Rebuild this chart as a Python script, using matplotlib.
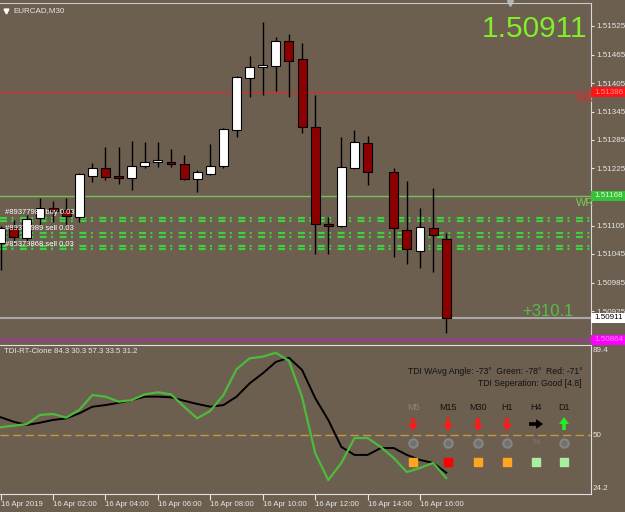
import matplotlib
matplotlib.use('Agg')
import matplotlib.pyplot as plt
import numpy as np
from matplotlib.patches import Rectangle, FancyArrowPatch
from matplotlib import transforms

plt.rcParams['font.family'] = ['Liberation Sans', 'DejaVu Sans']
plt.rcParams['lines.scale_dashes'] = False

nan = np.nan

# EURCAD M30 candles, 16 Apr 2019 00:00 .. 17:00 (bar 29 missing on the chart)
opens = [1.51068, 1.51100, 1.51079, 1.51121, 1.51142, 1.51138, 1.51123, 1.51209, 1.51226, 1.51206,
         1.51205, 1.51230, 1.51239, 1.51239, 1.51234, 1.51203, 1.51213, 1.51230, 1.51306, 1.51416,
         1.51439, 1.51441, 1.51493, 1.51456, 1.51312, 1.51107, 1.51104, 1.51226, 1.51279, nan,
         1.51218, 1.51096, 1.51051, 1.51100, 1.51077]
highs = [1.51104, 1.51117, 1.51127, 1.51163, 1.51157, 1.51163, 1.51216, 1.51237, 1.51270, 1.51270,
         1.51283, 1.51281, 1.51281, 1.51266, 1.51253, 1.51222, 1.51277, 1.51310, 1.51420, 1.51462,
         1.51533, 1.51502, 1.51508, 1.51489, 1.51380, 1.51123, 1.51291, 1.51306, 1.51293, nan,
         1.51226, 1.51199, 1.51142, 1.51184, 1.51089]
lows = [1.51011, 1.51064, 1.51066, 1.51106, 1.51112, 1.51106, 1.51112, 1.51197, 1.51200, 1.51192,
        1.51180, 1.51226, 1.51228, 1.51228, 1.51201, 1.51176, 1.51211, 1.51226, 1.51291, 1.51376,
        1.51380, 1.51388, 1.51376, 1.51300, 1.51045, 1.51045, 1.51102, 1.51224, 1.51190, nan,
        1.51039, 1.51024, 1.51016, 1.51007, 1.50879]
closes = [1.51100, 1.51081, 1.51119, 1.51142, 1.51136, 1.51125, 1.51213, 1.51226, 1.51207, 1.51205,
          1.51230, 1.51239, 1.51243, 1.51234, 1.51203, 1.51218, 1.51230, 1.51308, 1.51418, 1.51439,
          1.51442, 1.51493, 1.51451, 1.51312, 1.51108, 1.51105, 1.51228, 1.51281, 1.51218, nan,
          1.51100, 1.51056, 1.51102, 1.51085, 1.50911]

# TDI lines
tdi_green = [53.4, 54.1, 54.8, 58.8, 59.2, 57.6, 61.0, 67.5, 66.8, 64.6,
             65.3, 67.8, 68.7, 67.8, 62.4, 57.3, 60.6, 67.5, 78.8, 83.6,
             84.3, 86.0, 82.5, 66.6, 42.1, 30.3, 37.8, 48.7, 48.7, 44.8,
             39.9, 33.8, 35.6, 37.8, 31.2]
tdi_black = [57.8, 55.8, 54.4, 55.4, 56.6, 57.3, 59.5, 62.4, 63.1, 64.1,
             65.3, 66.8, 66.8, 66.5, 65.0, 63.6, 62.4, 63.1, 66.8, 72.6,
             77.0, 82.0, 83.8, 78.5, 66.2, 56.6, 44.8, 41.3, 41.3, 44.3,
             44.3, 41.3, 39.1, 37.8, 33.5]

time_labels = ['16 Apr 2019', '16 Apr 02:00', '16 Apr 04:00', '16 Apr 06:00', '16 Apr 08:00',
               '16 Apr 10:00', '16 Apr 12:00', '16 Apr 14:00', '16 Apr 16:00']
price_ticks = [1.51525, 1.51465, 1.51405, 1.51345, 1.51285, 1.51225, 1.51105, 1.51045, 1.50985, 1.50925]

red_level = 1.51386
green_level = 1.51168
bottom_level = 1.50864
grid_levels = [1.51121, 1.51115, 1.51089, 1.51081, 1.51062, 1.51056]
order_texts = ['#89377982 buy 0.03', '#89377989 sell 0.03', '#85379868 sell 0.03']
order_levels = [1.51133, 1.51099, 1.51065]
pnl = 310.1

tdi_title = 'TDI-RT-Clone 84.3 30.3 57.3 33.5 31.2'
tdi_info = ['TDI WAvg Angle: -73\u00b0  Green: -78\u00b0  Red: -71\u00b0', 'TDI Seperation: Good [4.8]']
tf_names = ['M5', 'M15', 'M30', 'H1', 'H4', 'D1']
tf_trend = ['down', 'down', 'down', 'down', 'flat', 'up']
tf_state = ['#FFA51F', '#FF0000', '#FFA51F', '#FFA51F', '#A8F0A0', '#A8F0A0']

BG = '#6d5f50'
LIGHT = '#e6e6e6'

W, H = 625, 512
def rect(x0, y0, x1, y1):
    return [x0 / W, 1 - y1 / H, (x1 - x0) / W, (y1 - y0) / H]

fig = plt.figure(figsize=(6.25, 5.12), dpi=100, facecolor=BG)
ax = fig.add_axes(rect(0, 3, 591, 342), facecolor=BG)
ax2 = fig.add_axes(rect(0, 345, 591, 494), facecolor=BG)

n = len(closes)
x = np.arange(n)
o = np.array(opens); c = np.array(closes); hi = np.array(highs); lo = np.array(lows)
ok = ~np.isnan(c)

# horizontal levels
ax.axhline(red_level, color='#c83232', lw=1, zorder=1)
ax.axhline(green_level, color='#78c05a', lw=1, zorder=1)
ax.axhline(c[ok][-1], color='#a8a8a8', lw=1.5, zorder=1)
ax.axhline(bottom_level, color='#b428b4', lw=1.2, zorder=1)
for lv in grid_levels:
    ax.axhline(lv, color='#3fcf3f', lw=1.6, dashes=(5, 3.2, 1.4, 4.7), zorder=1)

# candles
ax.vlines(x[ok], lo[ok], hi[ok], color='black', lw=1, zorder=3)
body = np.maximum(np.abs(c - o), 0.00004)
cols = np.where(c >= o, 'white', '#8b0000')
ax.bar(x[ok], body[ok], bottom=np.minimum(o, c)[ok], width=0.68, color=cols[ok],
       edgecolor='black', linewidth=0.8, zorder=4)

# order labels
for t, lv in zip(order_texts, order_levels):
    ax.text(0.3, lv, t, color='white', fontsize=5.5, va='center', zorder=5)

ax.set_xlim(-0.05, 45.05)
ax.set_ylim(1.51525 - 316 / 47500, 1.51525 + 23 / 47500)
ax.set_xticks([])
ax.yaxis.tick_right()
ax.set_yticks(price_ticks, ['%.5f' % p for p in price_ticks])
ax.tick_params(axis='y', colors=LIGHT, labelsize=5.8, length=2, pad=2, width=0.8)
for s in ['left', 'bottom']:
    ax.spines[s].set_visible(False)
ax.spines['right'].set_color('#d8d8d8')
ax.spines['top'].set_color('#c8c8c8')

# W labels cut at the right edge
for lv, col in [(red_level, '#d03030'), (green_level, '#7ccc5c')]:
    t = ax.annotate('WR', xy=(1, lv), xycoords=('axes fraction', 'data'), xytext=(-11, -1.5),
                    textcoords='offset points', va='top', color=col, fontsize=8)
    t.set_clip_on(True)

# boxes on the price scale
blend = transforms.blended_transform_factory(ax.transAxes, ax.transData)
box_h = 10 / 47500
for lv, fc, tc in [(red_level, '#ff1414', '#ff8c8c'), (green_level, '#36c236', '#d8ffd8'),
                   (c[ok][-1], 'white', 'black'), (bottom_level, '#ff00ff', '#ff80ff')]:
    ax.add_patch(Rectangle((1.0, lv - box_h / 2), 34 / 591, box_h, transform=blend,
                           facecolor=fc, edgecolor='none', clip_on=False, zorder=6))
    ax.text(1.0 + 3 / 591, lv, '%.5f' % lv, transform=blend, color=tc, fontsize=5.8,
            va='center', ha='left', clip_on=False, zorder=7)

# header texts
ax.plot(6 / 591, 1 - 8 / 339, marker='v', color='white', ms=3.5, transform=ax.transAxes, clip_on=False)
ax.text(13 / 591, 1 - 8 / 339, 'EURCAD,M30', transform=ax.transAxes, color=LIGHT, fontsize=5.8, va='center')
ax.plot(510 / 591, 1.0, marker='v', color='#b4b4b4', ms=4, transform=ax.transAxes, clip_on=False)
fig.text(587 / W, 1 - 29 / H, '%.5f' % c[ok][-1], ha='right', va='center', fontsize=21.5, color='#80f028')
ax.text(548 / 591, 1 - (312 - 3) / 339, '+%.1f' % pnl, transform=ax.transAxes, ha='center',
        va='center', fontsize=12, color='#55be46')

# TDI panel
ax2.axhline(50, color='#c8963c', lw=1, dashes=(6, 3))
ax2.plot(x, tdi_black, color='black', lw=1.4)
ax2.plot(x, tdi_green, color='#4cbb3c', lw=1.6)
ax2.set_xlim(-0.05, 45.05)
ax2.set_ylim(24.2, 89.4)
ax2.set_yticks([])
ax2.set_xticks(np.arange(0, n, 4)[:len(time_labels)], time_labels)
for t in ax2.get_xticklabels():
    t.set_ha('left')
ax2.tick_params(axis='x', colors=LIGHT, labelsize=5.6, length=4, pad=1, width=0.8)
ax2.spines['left'].set_visible(False)
for s in ['top', 'right', 'bottom']:
    ax2.spines[s].set_color('#e0e0e0')
ax2.text(1 + 2 / 591, 1 - 2 / 149, '89.4', transform=ax2.transAxes, color=LIGHT, fontsize=5.8, va='top', clip_on=False)
ax2.text(1 + 2 / 591, 50, '50', transform=transforms.blended_transform_factory(ax2.transAxes, ax2.transData),
         color=LIGHT, fontsize=5.8, va='center', clip_on=False)
ax2.text(1 + 2 / 591, 2 / 149, '24.2', transform=ax2.transAxes, color=LIGHT, fontsize=5.8, va='bottom', clip_on=False)
ax2.text(4 / 591, 1 - 3 / 149, tdi_title, transform=ax2.transAxes, color=LIGHT, fontsize=5.6, va='top')
ax2.text(582 / 591, (494 - 371) / 149, tdi_info[0], transform=ax2.transAxes, color='#111111',
         fontsize=6.2, ha='right', va='center')
ax2.text(582 / 591, (494 - 383) / 149, tdi_info[1], transform=ax2.transAxes, color='#111111',
         fontsize=6.2, ha='right', va='center')

# timeframe dashboard
tf_x = [413, 448, 478, 507, 536, 564]
for i, name in enumerate(tf_names):
    xc = tf_x[i] / 591
    ax2.text(xc, (494 - 408) / 149, name, transform=ax2.transAxes, ha='center', va='center',
             fontsize=6.5, color='#918575' if i == 0 else '#111111')
    ya = (494 - 424) / 149
    if tf_trend[i] == 'down':
        a, b, col = (xc, ya + 6 / 149), (xc, ya - 7 / 149), '#ff1a1a'
    elif tf_trend[i] == 'up':
        a, b, col = (xc, ya - 6 / 149), (xc, ya + 7 / 149), '#22ee22'
    else:
        a, b, col = (xc - 7 / 591, ya), (xc + 7 / 591, ya), 'black'
    ax2.add_patch(FancyArrowPatch(a, b, transform=ax2.transAxes, mutation_scale=1, color=col, lw=0,
                                  arrowstyle='simple,head_length=5,head_width=7,tail_width=2.6',
                                  shrinkA=0, shrinkB=0))
    yc = (494 - 443) / 149
    if tf_trend[i] == 'flat':
        ax2.text(xc, yc, '%', transform=ax2.transAxes, ha='center', va='center', fontsize=6, color='#86796a')
    else:
        ax2.plot(xc, yc, marker='o', ms=6, mfc='#707070', mec='#858585', mew=1.5, transform=ax2.transAxes)
    ax2.plot(xc, (494 - 462) / 149, marker='s', ms=6, mfc=tf_state[i], mec=tf_state[i],
             transform=ax2.transAxes)

fig.savefig('out.png', dpi=100, facecolor=BG)
